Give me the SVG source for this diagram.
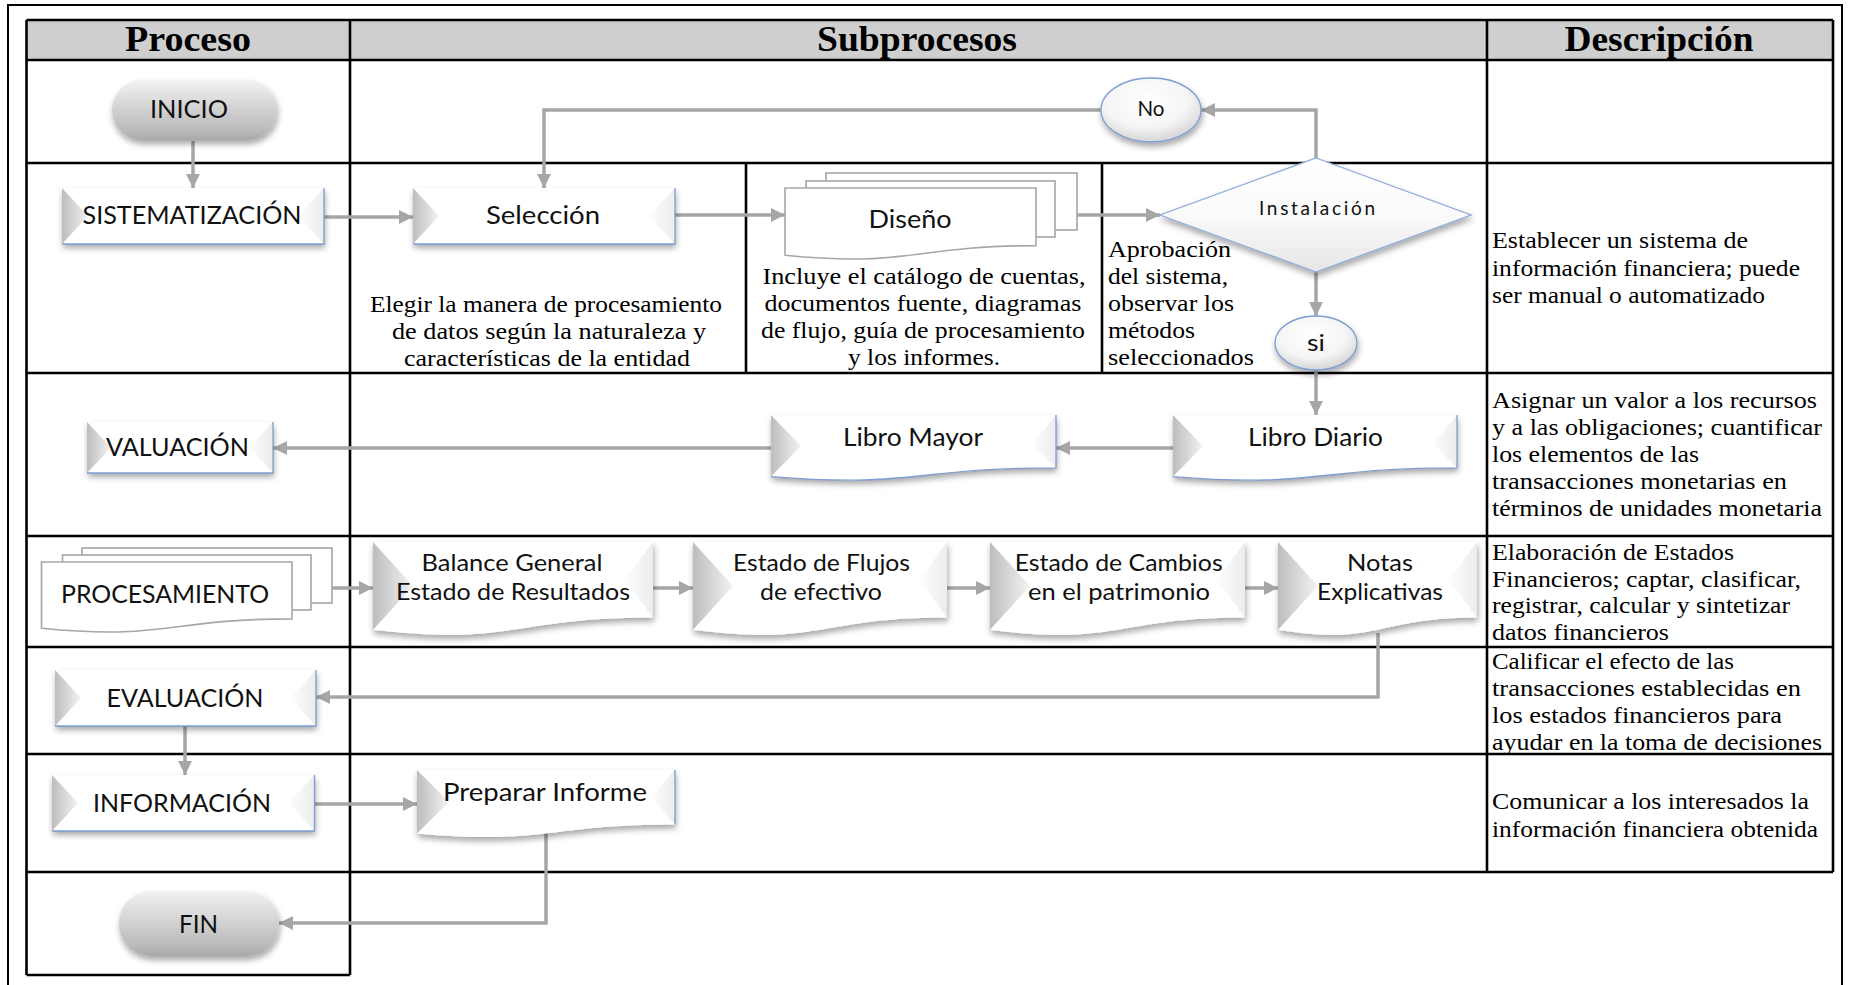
<svg xmlns="http://www.w3.org/2000/svg" width="1849" height="985" viewBox="0 0 1849 985">
  <style>
    .frame { stroke:#000; stroke-width:2; fill:none; }
    .tbl { stroke:#000; stroke-width:2.6; fill:none; }
    .hdr { font-family:"Liberation Serif","Times New Roman",serif; font-weight:bold; font-size:36px; fill:#000; text-anchor:middle; }
    .desc { font-family:"Liberation Serif","Times New Roman",serif; font-size:24px; fill:#000; }
    .mid { text-anchor:middle; }
    .lbl { font-family:Lato,"Open Sans",sans-serif; font-size:25px; fill:#111; text-anchor:middle; }
    .lbl2 { font-size:23.5px; }
    .conn { stroke:#a6a6a6; stroke-width:3.5; fill:none; marker-end:url(#arr); }
    .edge { stroke:#7e9dd2; stroke-width:1.3; fill:none; }
    .page { fill:#fff; stroke:#a6a6a6; stroke-width:1.6; }
    .box { fill:#fff; filter:url(#shadow); }
  </style>
  <defs>
    <filter id="shadow" x="-10%" y="-20%" width="125%" height="170%">
      <feGaussianBlur in="SourceAlpha" stdDeviation="3"/>
      <feOffset dx="1" dy="4"/>
      <feComponentTransfer><feFuncA type="linear" slope="0.35"/></feComponentTransfer>
      <feMerge><feMergeNode/><feMergeNode in="SourceGraphic"/></feMerge>
    </filter>
    <linearGradient id="bevLeft" x1="0" y1="0" x2="1" y2="0">
      <stop offset="0" stop-color="#bdbdbd"/>
      <stop offset="1" stop-color="#f3f3f3"/>
    </linearGradient>
    <linearGradient id="bevRight" x1="1" y1="0" x2="0" y2="0">
      <stop offset="0" stop-color="#ececec"/>
      <stop offset="1" stop-color="#fdfdfd"/>
    </linearGradient>
    <linearGradient id="pill" x1="0" y1="0" x2="0" y2="1">
      <stop offset="0" stop-color="#f2f2f2"/>
      <stop offset="0.45" stop-color="#d4d4d4"/>
      <stop offset="0.85" stop-color="#b9b9b9"/>
      <stop offset="1" stop-color="#a8a8a8"/>
    </linearGradient>
    <radialGradient id="oval" cx="0.45" cy="0.35" r="0.7">
      <stop offset="0" stop-color="#ffffff"/>
      <stop offset="0.6" stop-color="#f5f5f5"/>
      <stop offset="1" stop-color="#cfcfcf"/>
    </radialGradient>
    <linearGradient id="diam" x1="0" y1="0" x2="0" y2="1">
      <stop offset="0" stop-color="#ffffff"/>
      <stop offset="0.5" stop-color="#fafafa"/>
      <stop offset="1" stop-color="#e6e6e6"/>
    </linearGradient>
    <marker id="arr" viewBox="0 0 10 10" refX="10" refY="5" markerWidth="15" markerHeight="14" markerUnits="userSpaceOnUse" orient="auto">
      <path d="M0,0 L10,5 L0,10 z" fill="#a6a6a6"/>
    </marker>
  </defs>

  <rect width="1849" height="985" fill="#fff"/>

  <!-- page frame -->
  <path class="frame" d="M8,985 V5 H1842 V985"/>

  <!-- table -->
  <g id="table">
    <rect x="26.5" y="20" width="1806.5" height="40" fill="#d0cfcf"/>
    <path class="tbl" d="M26.5,20 H1833 M26.5,60 H1833 M26.5,163 H1833 M26.5,373 H1833 M26.5,536 H1833 M26.5,647 H1833 M26.5,754 H1833 M26.5,872 H1833 M26.5,975 H350"/>
    <path class="tbl" d="M26.5,20 V975 M350,20 V975 M1487,20 V872 M1833,20 V872 M746,163 V373 M1102,163 V373"/>
    <text class="hdr" x="188" y="51" textLength="126" lengthAdjust="spacingAndGlyphs">Proceso</text>
    <text class="hdr" x="917" y="51" textLength="200" lengthAdjust="spacingAndGlyphs">Subprocesos</text>
    <text class="hdr" x="1659" y="51" textLength="189" lengthAdjust="spacingAndGlyphs">Descripción</text>
  </g>

  <!-- descriptions inside the Subprocesos column -->
  <g id="desc-seleccion" class="desc mid">
    <text x="546" y="312" textLength="352" lengthAdjust="spacingAndGlyphs">Elegir la manera de procesamiento</text>
    <text x="549" y="339" textLength="314" lengthAdjust="spacingAndGlyphs">de datos según la naturaleza y</text>
    <text x="547" y="366" textLength="286" lengthAdjust="spacingAndGlyphs">características de la entidad</text>
  </g>
  <g id="desc-diseno" class="desc mid">
    <text x="924" y="284" textLength="323" lengthAdjust="spacingAndGlyphs">Incluye el catálogo de cuentas,</text>
    <text x="923" y="311" textLength="317" lengthAdjust="spacingAndGlyphs">documentos fuente, diagramas</text>
    <text x="923" y="338" textLength="324" lengthAdjust="spacingAndGlyphs">de flujo, guía de procesamiento</text>
    <text x="924" y="365" textLength="152" lengthAdjust="spacingAndGlyphs">y los informes.</text>
  </g>
  <g id="desc-instalacion" class="desc">
    <text x="1108" y="257" textLength="123" lengthAdjust="spacingAndGlyphs">Aprobación</text>
    <text x="1108" y="284" textLength="120" lengthAdjust="spacingAndGlyphs">del sistema,</text>
    <text x="1108" y="311" textLength="126" lengthAdjust="spacingAndGlyphs">observar los</text>
    <text x="1108" y="338" textLength="87" lengthAdjust="spacingAndGlyphs">métodos</text>
    <text x="1108" y="365" textLength="146" lengthAdjust="spacingAndGlyphs">seleccionados</text>
  </g>

  <!-- Descripción column -->
  <g id="desc-col" class="desc">
    <text x="1492" y="248" textLength="256" lengthAdjust="spacingAndGlyphs">Establecer un sistema de</text>
    <text x="1492" y="276" textLength="308" lengthAdjust="spacingAndGlyphs">información financiera; puede</text>
    <text x="1492" y="303" textLength="273" lengthAdjust="spacingAndGlyphs">ser manual o automatizado</text>

    <text x="1492" y="408" textLength="325" lengthAdjust="spacingAndGlyphs">Asignar un valor a los recursos</text>
    <text x="1492" y="435" textLength="330" lengthAdjust="spacingAndGlyphs">y a las obligaciones; cuantificar</text>
    <text x="1492" y="462" textLength="207" lengthAdjust="spacingAndGlyphs">los elementos de las</text>
    <text x="1492" y="489" textLength="295" lengthAdjust="spacingAndGlyphs">transacciones monetarias en</text>
    <text x="1492" y="516" textLength="330" lengthAdjust="spacingAndGlyphs">términos de unidades monetaria</text>

    <text x="1492" y="560" textLength="242" lengthAdjust="spacingAndGlyphs">Elaboración de Estados</text>
    <text x="1492" y="587" textLength="309" lengthAdjust="spacingAndGlyphs">Financieros; captar, clasificar,</text>
    <text x="1492" y="613" textLength="298" lengthAdjust="spacingAndGlyphs">registrar, calcular y sintetizar</text>
    <text x="1492" y="640" textLength="177" lengthAdjust="spacingAndGlyphs">datos financieros</text>

    <text x="1492" y="669" textLength="242" lengthAdjust="spacingAndGlyphs">Calificar el efecto de las</text>
    <text x="1492" y="696" textLength="309" lengthAdjust="spacingAndGlyphs">transacciones establecidas en</text>
    <text x="1492" y="723" textLength="290" lengthAdjust="spacingAndGlyphs">los estados financieros para</text>
    <text x="1492" y="750" textLength="330" lengthAdjust="spacingAndGlyphs">ayudar en la toma de decisiones</text>

    <text x="1492" y="809" textLength="317" lengthAdjust="spacingAndGlyphs">Comunicar a los interesados la</text>
    <text x="1492" y="837" textLength="326" lengthAdjust="spacingAndGlyphs">información financiera obtenida</text>
  </g>

  <!-- connectors -->
  <g id="connectors">
    <path class="conn" d="M193,141 V188"/>
    <path class="conn" d="M324,217 H413"/>
    <path class="conn" d="M675,215 H785"/>
    <path class="conn" d="M1077,215 H1160"/>
    <path class="conn" d="M1316,158 V110 H1201"/>
    <path class="conn" d="M1101,110 H544 V188"/>
    <path class="conn" d="M1316,272 V316"/>
    <path class="conn" d="M1316,370 V415"/>
    <path class="conn" d="M1173,448 H1056"/>
    <path class="conn" d="M771,448 H273"/>
    <path class="conn" d="M332,588 H373"/>
    <path class="conn" d="M653,588 H693"/>
    <path class="conn" d="M947,588 H990"/>
    <path class="conn" d="M1245,588 H1278"/>
    <path class="conn" d="M1378,633 V697 H316"/>
    <path class="conn" d="M185,726 V775"/>
    <path class="conn" d="M314.5,804 H417"/>
    <path class="conn" d="M546,833 V923 H279"/>
  </g>

  <!-- start / end -->
  <g id="n-inicio">
    <rect x="112" y="80" width="165" height="60" rx="30" fill="url(#pill)" filter="url(#shadow)"/>
    <text class="lbl" x="189" y="118" textLength="78" lengthAdjust="spacingAndGlyphs">INICIO</text>
  </g>
  <g id="n-fin">
    <rect x="119" y="891" width="160" height="65" rx="32" fill="url(#pill)" filter="url(#shadow)"/>
    <text class="lbl" x="198.5" y="933" textLength="39" lengthAdjust="spacingAndGlyphs">FIN</text>
  </g>

  <!-- process boxes -->
  <g id="n-sistematizacion">
    <rect class="box" x="62" y="188" width="262" height="56"/>
    <polygon points="62,188 88,216 62,244" fill="url(#bevLeft)"/>
    <polygon points="324,188 298,216 324,244" fill="url(#bevRight)"/>
    <polyline class="edge" points="324,188 324,244 62,244"/>
    <text class="lbl" x="192" y="224" textLength="219" lengthAdjust="spacingAndGlyphs">SISTEMATIZACIÓN</text>
  </g>
  <g id="n-seleccion">
    <rect class="box" x="413" y="188" width="262" height="56"/>
    <polygon points="413,188 439,216 413,244" fill="url(#bevLeft)"/>
    <polygon points="675,188 649,216 675,244" fill="url(#bevRight)"/>
    <polyline class="edge" points="675,188 675,244 413,244"/>
    <text class="lbl" x="543" y="224" textLength="114" lengthAdjust="spacingAndGlyphs">Selección</text>
  </g>
  <g id="n-valuacion">
    <rect class="box" x="87" y="422" width="186" height="51"/>
    <polygon points="87,422 111,447.5 87,473" fill="url(#bevLeft)"/>
    <polygon points="273,422 249,447.5 273,473" fill="url(#bevRight)"/>
    <polyline class="edge" points="273,422 273,473 87,473"/>
    <text class="lbl" x="177.5" y="456" textLength="143" lengthAdjust="spacingAndGlyphs">VALUACIÓN</text>
  </g>
  <g id="n-evaluacion">
    <rect class="box" x="55" y="670" width="261" height="56"/>
    <polygon points="55,670 81,698 55,726" fill="url(#bevLeft)"/>
    <polygon points="316,670 290,698 316,726" fill="url(#bevRight)"/>
    <polyline class="edge" points="316,670 316,726 55,726"/>
    <text class="lbl" x="185" y="707" textLength="157" lengthAdjust="spacingAndGlyphs">EVALUACIÓN</text>
  </g>
  <g id="n-informacion">
    <rect class="box" x="52" y="775" width="262.5" height="56"/>
    <polygon points="52,775 78,803 52,831" fill="url(#bevLeft)"/>
    <polygon points="314.5,775 288.5,803 314.5,831" fill="url(#bevRight)"/>
    <polyline class="edge" points="314.5,775 314.5,831 52,831"/>
    <text class="lbl" x="182" y="812" textLength="178" lengthAdjust="spacingAndGlyphs">INFORMACIÓN</text>
  </g>

  <!-- multi-document shapes -->
  <g id="n-diseno">
    <rect class="page" x="826" y="173" width="251" height="57"/>
    <rect class="page" x="806" y="181" width="249" height="56"/>
    <path class="page" d="M785,188 H1036 V245.7 C910.5,245.7 910.5,267.7 785,255.2 Z"/>
    <text class="lbl" x="910" y="228" textLength="83" lengthAdjust="spacingAndGlyphs">Diseño</text>
  </g>
  <g id="n-procesamiento">
    <rect class="page" x="82" y="548" width="250" height="55"/>
    <rect class="page" x="62.5" y="555" width="248.5" height="55"/>
    <path class="page" d="M41.5,562 H292 V618.9 C166.75,618.9 166.75,640.6 41.5,628.3 Z"/>
    <text class="lbl" x="165" y="603" textLength="208" lengthAdjust="spacingAndGlyphs">PROCESAMIENTO</text>
  </g>

  <!-- decision and connector circles -->
  <g id="n-instalacion">
    <polygon points="1316,158 1471,215 1316,272 1160,215" fill="url(#diam)" stroke="#8eaadb" stroke-width="1.3" filter="url(#shadow)"/>
    <text class="lbl" x="1317" y="215" style="font-size:19px" textLength="116" lengthAdjust="spacing">Instalación</text>
  </g>
  <g id="n-no">
    <ellipse cx="1151" cy="110" rx="50" ry="32" fill="url(#oval)" stroke="#7e9dd2" stroke-width="1.3" filter="url(#shadow)"/>
    <text class="lbl" x="1151" y="116" style="font-size:21px" textLength="27" lengthAdjust="spacingAndGlyphs">No</text>
  </g>
  <g id="n-si">
    <ellipse cx="1316" cy="343" rx="41" ry="27" fill="url(#oval)" stroke="#7e9dd2" stroke-width="1.3" filter="url(#shadow)"/>
    <text class="lbl" x="1316" y="351" style="font-size:23px" textLength="18" lengthAdjust="spacingAndGlyphs">si</text>
  </g>

  <!-- document shapes -->
  <g id="n-libro-diario">
    <path class="box" d="M1173,415 H1457 V467.9 C1315,467.9 1315,488.1 1173,476.6 Z"/>
    <polygon points="1173,415 1203,446 1173,476.6" fill="url(#bevLeft)"/>
    <polygon points="1457,415 1433,444 1457,468" fill="url(#bevRight)"/>
    <path class="edge" d="M1457,415 V467.9 C1315,467.9 1315,488.1 1173,476.6"/>
    <text class="lbl" x="1315.5" y="446" textLength="135" lengthAdjust="spacingAndGlyphs">Libro Diario</text>
  </g>
  <g id="n-libro-mayor">
    <path class="box" d="M771,415 H1056 V467.9 C913.5,467.9 913.5,488.1 771,476.6 Z"/>
    <polygon points="771,415 801,446 771,476.6" fill="url(#bevLeft)"/>
    <polygon points="1056,415 1032,444 1056,468" fill="url(#bevRight)"/>
    <path class="edge" d="M1056,415 V467.9 C913.5,467.9 913.5,488.1 771,476.6"/>
    <text class="lbl" x="913" y="446" textLength="140" lengthAdjust="spacingAndGlyphs">Libro Mayor</text>
  </g>
  <g id="n-balance">
    <path class="box" d="M373,542 H653 V617.4 C513,617.4 513,646.1 373,629.8 Z"/>
    <polygon points="373,542 413,586 373,629.8" fill="url(#bevLeft)"/>
    <polygon points="653,542 625,580 653,617.4" fill="url(#bevRight)"/>
    <text class="lbl lbl2" x="512" y="571" textLength="181" lengthAdjust="spacingAndGlyphs">Balance General</text>
    <text class="lbl lbl2" x="513" y="600" textLength="234" lengthAdjust="spacingAndGlyphs">Estado de Resultados</text>
  </g>
  <g id="n-flujos">
    <path class="box" d="M693,542 H947 V617.4 C820,617.4 820,646.1 693,629.8 Z"/>
    <polygon points="693,542 733,586 693,629.8" fill="url(#bevLeft)"/>
    <polygon points="947,542 919,580 947,617.4" fill="url(#bevRight)"/>
    <text class="lbl lbl2" x="821.5" y="571" textLength="177" lengthAdjust="spacingAndGlyphs">Estado de Flujos</text>
    <text class="lbl lbl2" x="821" y="600" textLength="122" lengthAdjust="spacingAndGlyphs">de efectivo</text>
  </g>
  <g id="n-cambios">
    <path class="box" d="M990,542 H1245 V617.4 C1117.5,617.4 1117.5,646.1 990,629.8 Z"/>
    <polygon points="990,542 1030,586 990,629.8" fill="url(#bevLeft)"/>
    <polygon points="1245,542 1217,580 1245,617.4" fill="url(#bevRight)"/>
    <text class="lbl lbl2" x="1118.7" y="571" textLength="208" lengthAdjust="spacingAndGlyphs">Estado de Cambios</text>
    <text class="lbl lbl2" x="1119" y="600" textLength="182" lengthAdjust="spacingAndGlyphs">en el patrimonio</text>
  </g>
  <g id="n-notas">
    <path class="box" d="M1278,542 H1477 V617.4 C1377.5,617.4 1377.5,646.1 1278,629.8 Z"/>
    <polygon points="1278,542 1318,586 1278,629.8" fill="url(#bevLeft)"/>
    <polygon points="1477,542 1449,580 1477,617.4" fill="url(#bevRight)"/>
    <text class="lbl lbl2" x="1380" y="571" textLength="66" lengthAdjust="spacingAndGlyphs">Notas</text>
    <text class="lbl lbl2" x="1380" y="600" textLength="126" lengthAdjust="spacingAndGlyphs">Explicativas</text>
  </g>
  <g id="n-preparar-informe">
    <path class="box" d="M417,770 H675 V824.5 C546,824.5 546,845.3 417,833.5 Z"/>
    <polygon points="417,770 449,802 417,833.5" fill="url(#bevLeft)"/>
    <polygon points="675,770 651,797 675,824.5" fill="url(#bevRight)"/>
    <path class="edge" d="M675,770 V824.5"/>
    <text class="lbl" x="545" y="801" textLength="204" lengthAdjust="spacingAndGlyphs">Preparar Informe</text>
  </g>
</svg>
